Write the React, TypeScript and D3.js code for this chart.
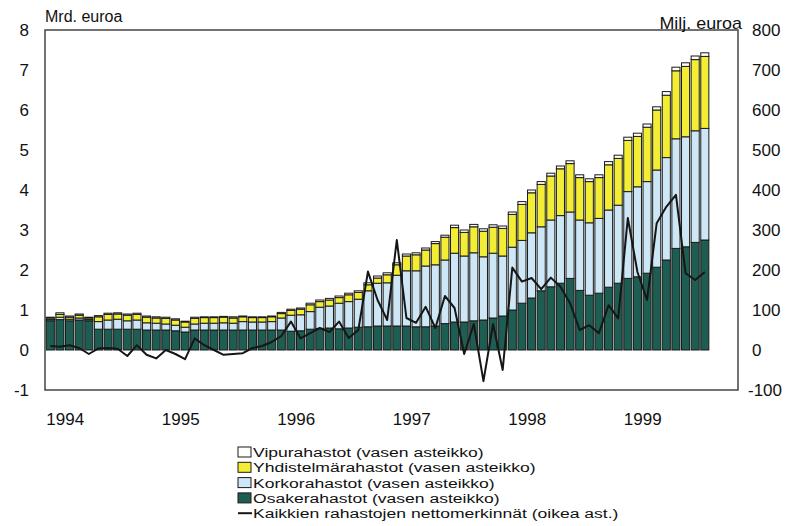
import React from "react"
import * as d3 from "d3"

// monthly data, Jan 1994 - Sep 1999 (mrd. euroa, left axis)
const osake = [
  0.73, 0.76, 0.73, 0.75, 0.73, 0.52, 0.52, 0.52, 0.52, 0.52, 0.5, 0.5,
  0.5, 0.48, 0.45, 0.5, 0.5, 0.5, 0.5, 0.5, 0.5, 0.5, 0.5, 0.5,
  0.5, 0.47, 0.48, 0.52, 0.54, 0.55, 0.53, 0.55, 0.57, 0.58, 0.6, 0.6,
  0.6, 0.6, 0.58, 0.58, 0.6, 0.66, 0.7, 0.7, 0.73, 0.75, 0.8, 0.85,
  1.0, 1.17, 1.3, 1.48, 1.58, 1.67, 1.79, 1.49, 1.37, 1.42, 1.57, 1.67,
  1.79, 1.83, 1.92, 2.07, 2.25, 2.54, 2.58, 2.69, 2.75,
]
const korko = [
  0.03, 0.06, 0.04, 0.05, 0.03, 0.19, 0.23, 0.25, 0.21, 0.23, 0.18, 0.17,
  0.15, 0.14, 0.12, 0.15, 0.17, 0.17, 0.18, 0.17, 0.21, 0.2, 0.2, 0.21,
  0.3, 0.4, 0.4, 0.44, 0.53, 0.55, 0.64, 0.66, 0.7, 0.9, 1.07, 1.08,
  1.27, 1.38, 1.4, 1.52, 1.53, 1.59, 1.72, 1.65, 1.7, 1.58, 1.62, 1.5,
  1.57, 1.57, 1.63, 1.6, 1.67, 1.69, 1.66, 1.76, 1.81, 1.87, 1.93, 1.95,
  2.17, 2.25, 2.29, 2.43, 2.56, 2.74, 2.75, 2.79, 2.79,
]
const yhdistelma = [
  0.04, 0.07, 0.05, 0.07, 0.04, 0.12, 0.14, 0.13, 0.14, 0.14, 0.14, 0.13,
  0.14, 0.13, 0.13, 0.14, 0.14, 0.14, 0.14, 0.13, 0.12, 0.11, 0.11, 0.12,
  0.11, 0.12, 0.14, 0.17, 0.14, 0.15, 0.14, 0.17, 0.17, 0.15, 0.13, 0.2,
  0.26, 0.37, 0.4, 0.4, 0.53, 0.57, 0.64, 0.59, 0.65, 0.64, 0.65, 0.69,
  0.82, 0.9, 1.0, 1.06, 1.1, 1.17, 1.21, 1.06, 1.03, 1.02, 1.13, 1.17,
  1.28, 1.26, 1.36, 1.5, 1.56, 1.7, 1.76, 1.78, 1.8,
]
const vipu = [
  0.02, 0.04, 0.03, 0.03, 0.02, 0.03, 0.03, 0.03, 0.03, 0.03, 0.03, 0.03,
  0.03, 0.03, 0.02, 0.03, 0.02, 0.02, 0.02, 0.03, 0.02, 0.02, 0.02, 0.02,
  0.03, 0.03, 0.03, 0.04, 0.04, 0.04, 0.04, 0.04, 0.04, 0.05, 0.05, 0.05,
  0.05, 0.05, 0.05, 0.05, 0.05, 0.05, 0.06, 0.06, 0.06, 0.06, 0.06, 0.06,
  0.06, 0.07, 0.07, 0.07, 0.07, 0.07, 0.07, 0.07, 0.07, 0.07, 0.08, 0.08,
  0.08, 0.08, 0.08, 0.08, 0.09, 0.09, 0.09, 0.09, 0.09,
]
// net subscriptions, milj. euroa (right axis)
const netto = [
  10, 8, 12, 5, -10, 4, 5, 3, -15, 12, -12, -21,
  0, -10, -23, 29, 12, 0, -12, -10, -8, 5, 10, 20,
  35, 71, 29, 42, 55, 45, 71, 30, 50, 196, 125, 75,
  275, 80, 68, 108, 55, 135, 105, -10, 65, -78, 65, -50,
  206, 171, 180, 152, 181, 158, 117, 50, 62, 42, 112, 79,
  330, 195, 125, 317, 358, 388, 192, 175, 195,
]

const years = ["1994", "1995", "1996", "1997", "1998", "1999"]
const leftTicks = [-1, 0, 1, 2, 3, 4, 5, 6, 7, 8]
const rightTicks = [-100, 0, 100, 200, 300, 400, 500, 600, 700, 800]

const seriesKeys = ["osake", "korko", "yhdistelma", "vipu"]
const colors: Record<string, string> = {
  osake: "#1d5d52",
  korko: "#cde7f6",
  yhdistelma: "#f3ee35",
  vipu: "#ffffff",
}
const legendItems = [
  { label: "Vipurahastot (vasen asteikko)", key: "vipu" },
  { label: "Yhdistelmärahastot (vasen asteikko)", key: "yhdistelma" },
  { label: "Korkorahastot (vasen asteikko)", key: "korko" },
  { label: "Osakerahastot (vasen asteikko)", key: "osake" },
]
const lineLabel = "Kaikkien rahastojen nettomerkinnät (oikea ast.)"

const W = 795
const H = 526
const plot = { left: 45.5, right: 738.5, top: 30, bottom: 390 }
const font = "'Liberation Sans', Arial, Helvetica, sans-serif"

export default function App() {
  const months = d3.range(years.length * 12)
  const x = d3
    .scaleBand<number>()
    .domain(months)
    .range([plot.left, plot.right])
    .paddingInner(0.16)
    .paddingOuter(0.08)
  const yL = d3.scaleLinear().domain([-1, 8]).range([plot.bottom, plot.top])
  const yR = d3.scaleLinear().domain([-100, 800]).range([plot.bottom, plot.top])

  const rows = osake.map((v, i) => ({
    i,
    osake: v,
    korko: korko[i],
    yhdistelma: yhdistelma[i],
    vipu: vipu[i],
  }))
  const stacked = d3.stack<any>().keys(seriesKeys)(rows)

  const line = d3
    .line<number>()
    .x((_, i) => (x(i) as number) + x.bandwidth() / 2)
    .y((d) => yR(d))

  const legendY = (k: number) => 452 + k * 15.3

  return (
    <svg
      width={W}
      height={H}
      style={{ position: "absolute", left: 0, top: 0, background: "#fff" }}
      fontFamily={font}
    >
      <rect x={0} y={0} width={W} height={H} fill="#fff" />

      {/* bars */}
      {stacked.map((s) => (
        <g key={s.key} fill={colors[s.key]} stroke="#1a1a1a" strokeWidth={1}>
          {s.map((d, i) => (
            <rect
              key={i}
              x={x(i)}
              y={yL(d[1])}
              width={x.bandwidth()}
              height={Math.max(0, yL(d[0]) - yL(d[1]))}
            />
          ))}
        </g>
      ))}

      {/* net subscriptions line */}
      <path d={line(netto) ?? ""} fill="none" stroke="#161616" strokeWidth={2} strokeLinejoin="round" />

      {/* frame */}
      <rect
        x={plot.left - 0.5}
        y={plot.top}
        width={plot.right - plot.left}
        height={plot.bottom - plot.top}
        fill="none"
        stroke="#444"
        strokeWidth={1.5}
      />

      {/* axis labels */}
      {leftTicks.map((t) => (
        <text key={t} x={29} y={yL(t) + 6} textAnchor="end" fontSize={17} fill="#111">
          {t}
        </text>
      ))}
      {rightTicks.map((t) => (
        <text key={t} x={t < 0 ? 748 : 752} y={yR(t) + 6} fontSize={17} fill="#111">
          {t}
        </text>
      ))}
      {years.map((yr, k) => (
        <text key={yr} x={x(k * 12)} y={425} fontSize={17} fill="#111">
          {yr}
        </text>
      ))}
      <text x={45} y={22} fontSize={16} fill="#111">
        Mrd. euroa
      </text>
      <text transform="translate(742,29) scale(1.12,1)" textAnchor="end" fontSize={16} fill="#111">
        Milj. euroa
      </text>

      {/* legend */}
      <g fill="#111">
        {legendItems.map((it, k) => (
          <g key={it.key}>
            <rect
              x={238}
              y={legendY(k) - 5}
              width={13}
              height={10}
              fill={colors[it.key]}
              stroke="#1a1a1a"
              strokeWidth={1}
            />
            <text transform={`translate(253,${legendY(k) + 5}) scale(1.3,1)`} fontSize={13.5}>
              {it.label}
            </text>
          </g>
        ))}
        <line x1={238} x2={252} y1={legendY(4)} y2={legendY(4)} stroke="#161616" strokeWidth={2} />
        <text transform={`translate(253,${legendY(4) + 5}) scale(1.3,1)`} fontSize={13.5}>
          {lineLabel}
        </text>
      </g>
    </svg>
  )
}
